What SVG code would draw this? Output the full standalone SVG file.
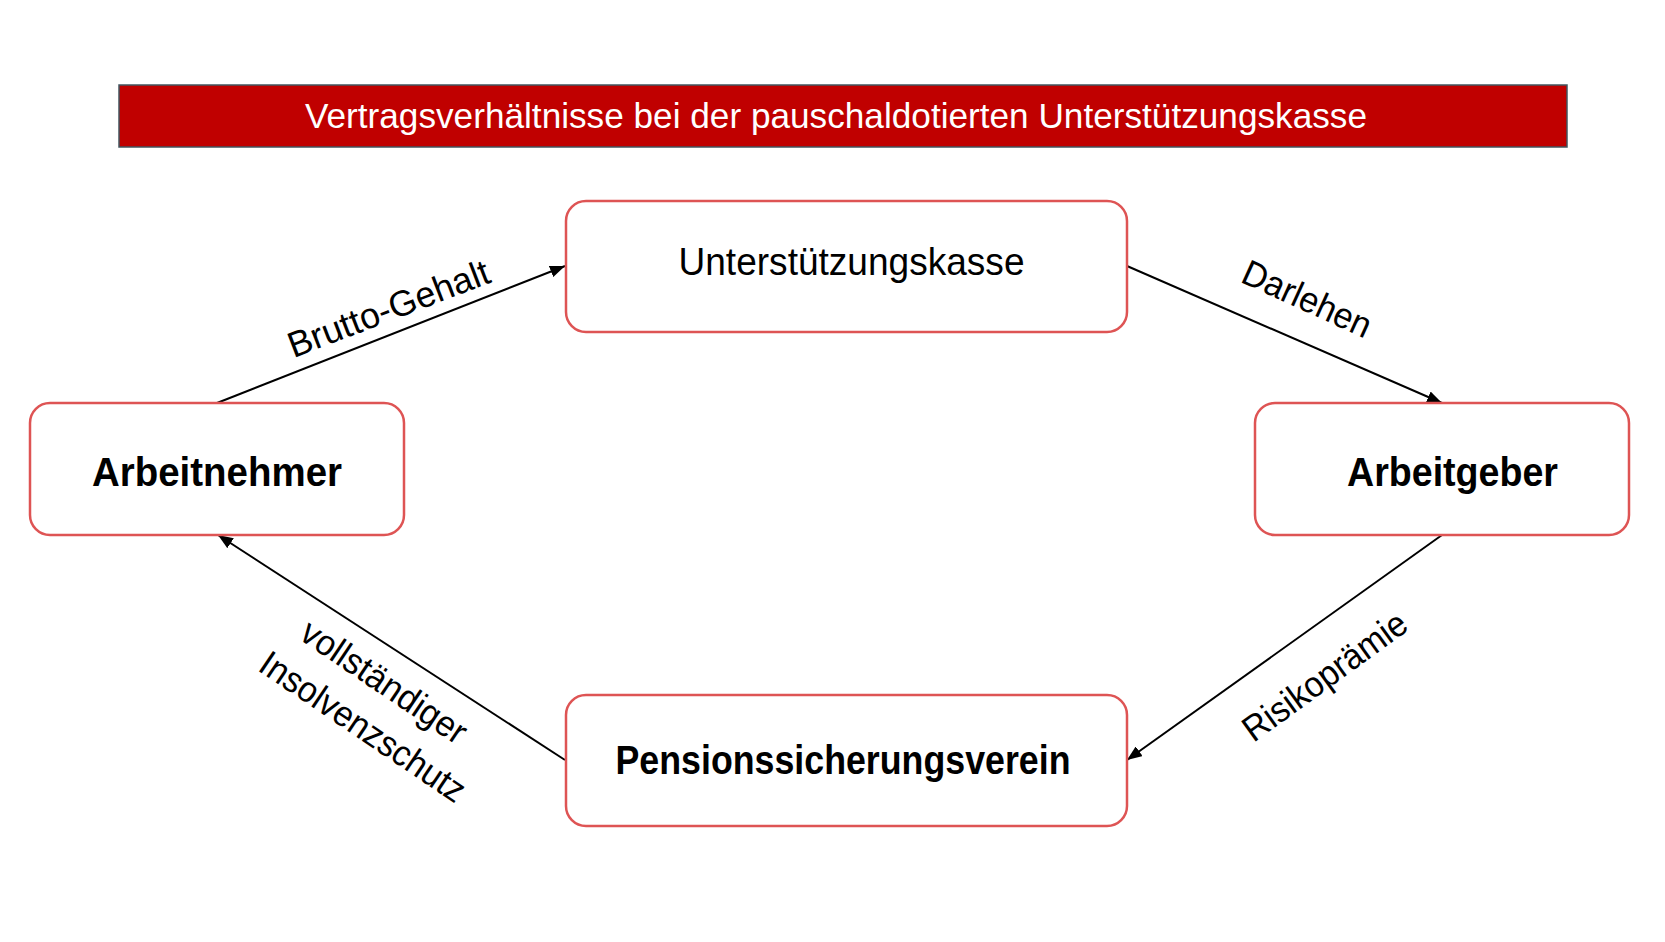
<svg xmlns="http://www.w3.org/2000/svg" width="1665" height="942" viewBox="0 0 1665 942">
<style>
.box{fill:#ffffff;stroke:#DE5454;stroke-width:2.5}
.t{font-family:"Liberation Sans",Arial,sans-serif;fill:#000000;text-anchor:middle}
.nb{font-size:40px;font-weight:bold}
.nr{font-size:39px}
.lbl{font-family:"Liberation Sans",Arial,sans-serif;font-size:36px;fill:#000000;text-anchor:middle}
.conn{stroke:#000000;stroke-width:2;fill:none;marker-end:url(#arr)}
</style>
<defs>
<marker id="arr" markerUnits="userSpaceOnUse" markerWidth="16" markerHeight="12" refX="15" refY="6" orient="auto">
<path d="M0,0 L15,6 L0,12 z" fill="#000000"/>
</marker>
</defs>
<rect width="1665" height="942" fill="#ffffff"/>
<g id="title">
<rect x="119" y="85" width="1448" height="62" fill="#C00000" stroke="#41555F" stroke-width="1.5"/>
<text x="836" y="128" font-family="Liberation Sans,Arial,sans-serif" font-size="35" fill="#ffffff" text-anchor="middle" textLength="1062" lengthAdjust="spacingAndGlyphs">Vertragsverhältnisse bei der pauschaldotierten Unterstützungskasse</text>
</g>
<g id="connectors">
<line class="conn" x1="217" y1="403" x2="565" y2="266"/>
<line class="conn" x1="1127" y1="266" x2="1442" y2="403"/>
<line class="conn" x1="1442" y1="535" x2="1127" y2="760"/>
<line class="conn" x1="565" y1="760" x2="218" y2="535"/>
<text class="lbl" transform="translate(393,320) rotate(-21)" textLength="213" lengthAdjust="spacingAndGlyphs">Brutto-Gehalt</text>
<text class="lbl" transform="translate(1302,310) rotate(24.5)" textLength="138" lengthAdjust="spacingAndGlyphs">Darlehen</text>
<text class="lbl" transform="translate(1332,686) rotate(-36)" textLength="194" lengthAdjust="spacingAndGlyphs">Risikoprämie</text>
<g transform="translate(367,714) rotate(34)">
<text class="lbl" x="-3.7" y="-24" textLength="192" lengthAdjust="spacingAndGlyphs">vollständiger</text>
<text class="lbl" x="3.7" y="25" textLength="240" lengthAdjust="spacingAndGlyphs">Insolvenzschutz</text>
</g>
</g>
<g id="node-unterstuetzungskasse">
<rect class="box" x="566" y="201" width="561" height="131" rx="20"/>
<text class="t nr" x="851.5" y="275" textLength="346" lengthAdjust="spacingAndGlyphs">Unterstützungskasse</text>
</g>
<g id="node-arbeitnehmer">
<rect class="box" x="30" y="403" width="374" height="132" rx="20"/>
<text class="t nb" x="217" y="486" textLength="250" lengthAdjust="spacingAndGlyphs">Arbeitnehmer</text>
</g>
<g id="node-arbeitgeber">
<rect class="box" x="1255" y="403" width="374" height="132" rx="20"/>
<text class="t nb" x="1452.5" y="486" textLength="211" lengthAdjust="spacingAndGlyphs">Arbeitgeber</text>
</g>
<g id="node-pensionssicherungsverein">
<rect class="box" x="566" y="695" width="561" height="131" rx="20"/>
<text class="t nb" x="843" y="774" textLength="455" lengthAdjust="spacingAndGlyphs">Pensionssicherungsverein</text>
</g>
</svg>
